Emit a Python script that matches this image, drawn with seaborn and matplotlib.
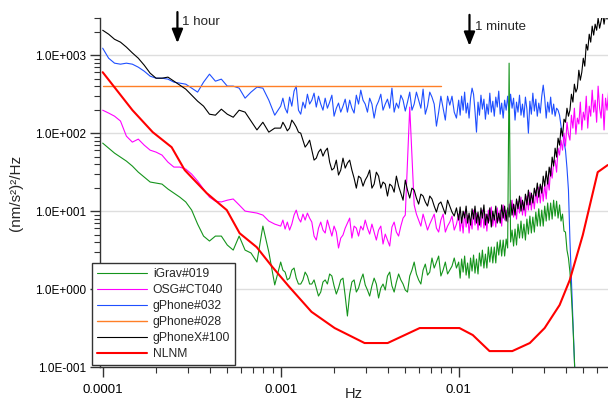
import numpy as np
import pandas as pd
import matplotlib
matplotlib.use("Agg")
import matplotlib.pyplot as plt
from matplotlib.ticker import FuncFormatter, LogLocator, NullFormatter
import seaborn as sns

# Frequency grid of the spectral estimates (Hz)
freq_lo = [1.000e-4, 1.080e-4, 1.166e-4, 1.259e-4, 1.359e-4, 1.468e-4, 1.585e-4, 1.711e-4,
           1.848e-4, 1.995e-4, 2.154e-4, 2.326e-4, 2.512e-4, 2.712e-4, 2.929e-4, 3.162e-4,
           3.415e-4, 3.687e-4, 3.981e-4, 4.299e-4, 4.642e-4, 5.012e-4, 5.412e-4, 5.843e-4,
           6.310e-4, 6.813e-4, 7.356e-4, 7.943e-4, 8.577e-4, 9.261e-4]
freq_mid = [1.000e-3, 1.029e-3, 1.059e-3, 1.090e-3, 1.122e-3, 1.155e-3, 1.189e-3, 1.223e-3,
            1.259e-3, 1.296e-3, 1.334e-3, 1.372e-3, 1.413e-3, 1.454e-3, 1.496e-3, 1.540e-3,
            1.585e-3, 1.631e-3, 1.679e-3, 1.728e-3, 1.778e-3, 1.830e-3, 1.884e-3, 1.939e-3,
            1.995e-3, 2.054e-3, 2.113e-3, 2.175e-3, 2.239e-3, 2.304e-3, 2.371e-3, 2.441e-3,
            2.512e-3, 2.585e-3, 2.661e-3, 2.738e-3, 2.818e-3, 2.901e-3, 2.985e-3, 3.073e-3,
            3.162e-3, 3.255e-3, 3.350e-3, 3.447e-3, 3.548e-3, 3.652e-3, 3.758e-3, 3.868e-3,
            3.981e-3, 4.097e-3, 4.217e-3, 4.340e-3, 4.467e-3, 4.597e-3, 4.732e-3, 4.870e-3,
            5.012e-3, 5.158e-3, 5.309e-3, 5.464e-3, 5.623e-3, 5.788e-3, 5.957e-3, 6.131e-3,
            6.310e-3, 6.494e-3, 6.683e-3, 6.879e-3, 7.079e-3, 7.286e-3, 7.499e-3, 7.718e-3,
            7.943e-3, 8.175e-3, 8.414e-3, 8.660e-3, 8.913e-3, 9.173e-3, 9.441e-3, 9.716e-3]
freq_hi = [1.000e-2, 1.019e-2, 1.039e-2, 1.059e-2, 1.080e-2, 1.101e-2, 1.122e-2, 1.144e-2,
           1.166e-2, 1.189e-2, 1.212e-2, 1.235e-2, 1.259e-2, 1.284e-2, 1.308e-2, 1.334e-2,
           1.359e-2, 1.386e-2, 1.413e-2, 1.440e-2, 1.468e-2, 1.496e-2, 1.525e-2, 1.555e-2,
           1.585e-2, 1.616e-2, 1.647e-2, 1.679e-2, 1.711e-2, 1.744e-2, 1.778e-2, 1.812e-2,
           1.848e-2, 1.884e-2, 1.920e-2, 1.957e-2, 1.995e-2, 2.034e-2, 2.073e-2, 2.113e-2,
           2.154e-2, 2.196e-2, 2.239e-2, 2.282e-2, 2.326e-2, 2.371e-2, 2.417e-2, 2.464e-2,
           2.512e-2, 2.560e-2, 2.610e-2, 2.661e-2, 2.712e-2, 2.765e-2, 2.818e-2, 2.873e-2,
           2.929e-2, 2.985e-2, 3.043e-2, 3.102e-2, 3.162e-2, 3.224e-2, 3.286e-2, 3.350e-2,
           3.415e-2, 3.481e-2, 3.548e-2, 3.617e-2, 3.687e-2, 3.758e-2, 3.831e-2, 3.906e-2,
           3.981e-2, 4.059e-2, 4.137e-2, 4.217e-2, 4.299e-2, 4.382e-2, 4.467e-2, 4.554e-2,
           4.642e-2, 4.732e-2, 4.823e-2, 4.917e-2, 5.012e-2, 5.109e-2, 5.208e-2, 5.309e-2,
           5.412e-2, 5.517e-2, 5.623e-2, 5.732e-2, 5.843e-2, 5.957e-2, 6.072e-2, 6.190e-2,
           6.310e-2, 6.432e-2, 6.556e-2, 6.683e-2, 6.813e-2, 6.945e-2]
freq = freq_lo + freq_mid + freq_hi

# PSD of each instrument, (nm/s^2)^2/Hz, on the grid above
igrav_019 = [
    74.5, 64.2, 55.4, 49.3, 43.8, 37.8, 31.6, 27.3, 23.6, 22.9,
    22.2, 19.2, 17.0, 15.1, 13.1, 10.3, 6.81, 4.78, 4.13, 4.78,
    4.78, 3.67, 3.16, 4.78, 3.16, 2.90, 2.22, 6.42, 2.98, 1.13,
    2.22, 1.75, 1.65, 1.31, 1.38, 1.75, 1.86, 1.38, 1.16, 1.16,
    1.31, 1.65, 1.47, 1.16, 1.16, 1.31, 1.03, 0.813, 0.915, 1.23,
    1.31, 1.16, 1.56, 1.47, 1.10, 0.863, 1.03, 1.31, 1.38, 0.813,
    0.451, 0.863, 1.23, 1.31, 0.915, 1.03, 1.31, 1.56, 1.13, 0.971,
    0.813, 1.10, 1.38, 1.16, 0.767, 1.03, 1.16, 0.971, 1.47, 1.65,
    1.10, 0.915, 1.23, 1.56, 1.31, 1.16, 0.971, 0.915, 1.47, 1.75,
    2.22, 1.56, 1.31, 1.16, 1.75, 2.09, 1.51, 1.65, 2.50, 1.86,
    2.22, 2.65, 1.47, 1.75, 2.22, 1.56, 1.75, 1.97, 2.50, 1.86,
    2.22, 1.38, 2.43, 1.65, 2.65, 1.51, 2.16, 1.38, 2.50, 1.70,
    2.73, 1.60, 2.43, 1.56, 2.90, 1.97, 3.16, 1.86, 2.81, 1.86,
    3.46, 2.22, 3.46, 2.16, 3.46, 2.16, 4.01, 2.73, 4.25, 2.65,
    4.25, 2.65, 4.38, 3.36, 790, 4.01, 5.71, 3.56, 5.88, 3.67,
    6.81, 4.51, 7.45, 4.51, 6.81, 4.25, 7.90, 5.07, 8.63, 5.23,
    8.38, 5.38, 9.71, 6.42, 10.7, 6.42, 10.3, 6.42, 11.6, 7.45,
    12.7, 7.67, 12.7, 7.90, 13.8, 8.63, 13.4, 8.13, 12.0, 7.45,
    9.15, 5.54, 5.38, 3.16, 2.50, 1.65, 0.813, 0.346, 0.123, 0.0378]

osg_ct040 = [
    197, 181, 165, 143, 91.5, 76.7, 83.8, 70.2, 60.5, 57.1,
    52.3, 42.5, 36.7, 36.7, 34.6, 29.8, 24.3, 19.2, 15.1, 13.4,
    13.1, 13.8, 14.3, 12.0, 10.0, 9.71, 9.43, 8.89, 7.45, 6.81,
    6.42, 7.67, 5.88, 7.23, 5.71, 6.81, 8.89, 10.3, 8.13, 7.23,
    9.15, 7.67, 9.43, 8.13, 7.23, 4.78, 4.25, 6.05, 7.23, 5.71,
    5.23, 7.67, 6.05, 4.78, 6.42, 5.38, 3.36, 4.51, 4.93, 6.05,
    7.02, 8.13, 4.51, 6.42, 6.05, 4.78, 6.42, 5.71, 7.67, 6.05,
    5.07, 6.81, 5.38, 4.25, 5.71, 6.42, 3.78, 5.07, 4.25, 3.56,
    6.24, 7.23, 5.38, 4.78, 6.42, 8.13, 8.89, 45.1, 216, 52.3,
    12.0, 9.15, 7.67, 6.42, 9.15, 7.23, 5.71, 6.81, 7.90, 9.15,
    6.05, 5.38, 7.67, 9.15, 5.38, 6.42, 7.23, 8.63, 5.71, 6.81,
    9.15, 5.54, 8.13, 5.23, 9.71, 6.24, 8.89, 5.23, 7.90, 5.88,
    10.3, 6.62, 9.43, 5.71, 8.38, 6.24, 10.3, 6.05, 9.15, 5.54,
    10.3, 7.45, 11.3, 6.42, 8.89, 6.24, 11.0, 7.45, 10.3, 6.42,
    12.0, 7.67, 10.3, 7.23, 12.3, 8.63, 13.8, 8.38, 12.0, 7.90,
    13.4, 9.43, 15.1, 8.89, 13.1, 8.63, 15.6, 10.3, 17.5, 10.3,
    16.0, 10.7, 18.6, 12.7, 20.3, 12.7, 20.9, 13.4, 22.2, 14.3,
    26.5, 18.6, 35.6, 26.5, 41.3, 45.1, 31.6, 64.2, 52.3, 81.3,
    60.5, 100, 68.1, 138, 97.1, 81.3, 170, 116, 209, 97.1,
    156, 131, 250, 110, 186, 147, 298, 116, 222, 165,
    356, 186, 265, 138, 401, 209, 156, 316, 110, 281,
    197, 336]

gphone_032 = [
    1230, 915, 790, 767, 790, 767, 702, 624, 538, 507,
    507, 493, 451, 438, 425, 378, 336, 451, 571, 464,
    493, 401, 401, 378, 281, 336, 389, 378, 265, 170,
    222, 281, 209, 181, 290, 222, 346, 401, 197, 175,
    250, 209, 316, 236, 265, 326, 216, 298, 236, 197,
    281, 209, 250, 307, 165, 209, 243, 186, 222, 273,
    186, 265, 209, 181, 307, 236, 356, 265, 236, 186,
    281, 236, 156, 222, 257, 316, 197, 236, 273, 209,
    378, 186, 243, 209, 307, 265, 192, 250, 336, 197,
    236, 336, 265, 209, 367, 175, 222, 336, 290, 236,
    123, 186, 298, 209, 147, 298, 229, 298, 186, 156,
    265, 170, 298, 197, 336, 181, 243, 156, 281, 378,
    316, 192, 103, 250, 170, 307, 203, 273, 151, 236,
    175, 326, 186, 257, 165, 290, 216, 346, 175, 243,
    156, 265, 197, 298, 181, 316, 209, 281, 147, 250,
    186, 307, 170, 236, 160, 290, 203, 100, 257, 175,
    326, 192, 273, 165, 243, 181, 298, 413, 281, 156,
    250, 186, 290, 175, 236, 165, 209, 197, 170, 123,
    100, 76.7, 60.5, 35.6, 18.6, 4.25, 1.31, 0.401, 0.123, 0.0378]

gphonex_100 = [
    2090, 1860, 1600, 1470, 1270, 1070, 915, 745, 588, 507,
    507, 523, 464, 413, 367, 307, 257, 222, 175, 170,
    203, 175, 160, 197, 186, 143, 110, 138, 103, 116,
    116, 138, 123, 107, 116, 147, 134, 120, 103, 100,
    81.3, 66.2, 72.3, 81.3, 60.5, 45.1, 47.8, 57.1, 62.4, 50.7,
    58.8, 64.2, 42.5, 33.6, 35.6, 45.1, 29.0, 33.6, 47.8, 35.6,
    41.3, 45.1, 33.6, 26.5, 19.7, 28.1, 26.5, 20.9, 25.0, 28.1,
    33.6, 19.7, 22.2, 31.6, 28.1, 19.7, 23.6, 22.2, 15.6, 22.2,
    20.9, 17.5, 28.1, 20.9, 17.0, 13.8, 25.0, 18.6, 14.7, 19.7,
    18.6, 14.7, 12.3, 16.5, 15.6, 13.1, 11.6, 15.6, 14.3, 11.6,
    9.71, 12.3, 13.1, 11.0, 9.15, 13.8, 11.6, 9.71, 8.63, 11.0,
    7.67, 11.3, 7.02, 10.0, 8.13, 11.6, 7.02, 9.43, 6.62, 10.7,
    7.90, 11.6, 7.02, 9.71, 6.62, 11.0, 8.13, 12.0, 6.62, 9.15,
    7.02, 11.0, 6.24, 10.0, 7.67, 11.6, 7.02, 9.43, 7.02, 12.0,
    8.13, 11.6, 7.45, 11.0, 8.38, 13.8, 8.89, 12.3, 8.89, 14.3,
    10.7, 15.6, 10.0, 13.8, 10.3, 16.5, 12.0, 18.6, 12.0, 17.0,
    12.7, 19.7, 15.6, 22.9, 15.1, 22.2, 17.0, 28.1, 20.9, 32.6,
    22.2, 36.7, 28.1, 49.3, 37.8, 64.2, 49.3, 86.3, 70.2, 116,
    91.5, 151, 138, 209, 165, 197, 316, 250, 425, 336,
    378, 642, 478, 605, 915, 723, 1380, 1160, 1860, 1470,
    2360, 1810, 2500, 2090, 2980, 2220, 2730, 3460, 2500, 3360,
    2900, 3560]

gphone_028_freq = [1.0e-4, 8.0e-3]
gphone_028 = [400, 400]

# New Low Noise Model
nlnm_freq = [1.0e-4, 1.47e-4, 1.91e-4, 2.44e-4, 2.89e-4, 3.84e-4, 4.98e-4, 5.88e-4,
             7.33e-4, 9.0e-4, 1.12e-3, 1.49e-3, 2.01e-3, 2.96e-3, 3.99e-3, 6.04e-3,
             1.01e-2, 1.20e-2, 1.49e-2, 2.0e-2, 2.51e-2, 3.04e-2, 3.69e-2, 4.21e-2,
             4.98e-2, 6.04e-2, 6.87e-2]
nlnm = [605, 197, 103, 66, 33.6, 17.0, 10.3, 5.2, 3.45, 1.91, 1.06, 0.51, 0.316,
        0.203, 0.203, 0.316, 0.316, 0.257, 0.16, 0.16, 0.203, 0.316, 0.624, 1.31,
        4.93, 31.6, 38.9]

labels = ["iGrav#019", "OSG#CT040", "gPhone#032", "gPhone#028", "gPhoneX#100", "NLNM"]

sns.set_theme(style="white")
plt.rcParams["font.family"] = ["Liberation Sans", "DejaVu Sans"]

W, H = 608, 401
fig = plt.figure(figsize=(W / 100, H / 100), dpi=100)
ax = fig.add_axes([100 / W, 34 / H, 508 / W, 349 / H])

series = [
    ("gPhone#032", freq, gphone_032, "#1f4fff", 0.8, 2.0),
    ("gPhone#028", gphone_028_freq, gphone_028, "#ff7f27", 1.0, 2.1),
    ("OSG#CT040", freq, osg_ct040, "#ff00ff", 0.8, 2.2),
    ("gPhoneX#100", freq, gphonex_100, "#000000", 0.8, 2.3),
    ("iGrav#019", freq, igrav_019, "#15941c", 0.8, 2.4),
    ("NLNM", nlnm_freq, nlnm, "#ff0000", 1.5, 2.5),
]
for name, fx, fy, color, lw, z in series:
    df = pd.DataFrame({"Hz": fx[:len(fy)], "psd": fy})
    sns.lineplot(data=df, x="Hz", y="psd", ax=ax, color=color, linewidth=lw,
                 estimator=None, sort=False, label=name, zorder=z)

ax.set_xscale("log")
ax.set_yscale("log")
ax.set_xlim(9.66e-5, 0.069)
ax.set_ylim(0.1, 3000)


def sci_label(v, pos):
    if v <= 0:
        return ""
    e = int(np.floor(np.log10(v) + 1e-9))
    m = v / 10 ** e
    return f"{m:.1f}E{e:+04d}"


ax.yaxis.set_major_formatter(FuncFormatter(sci_label))
ax.xaxis.set_major_formatter(FuncFormatter(lambda v, p: f"{v:g}"))
ax.yaxis.set_minor_locator(LogLocator(base=10, subs=(2, 3, 4, 5, 6, 7, 8, 9), numticks=20))
ax.xaxis.set_minor_locator(LogLocator(base=10, subs=(2, 3, 4, 5, 6, 7, 8, 9), numticks=20))
ax.yaxis.set_minor_formatter(NullFormatter())
ax.xaxis.set_minor_formatter(NullFormatter())

ax.tick_params(axis="both", which="major", direction="out", length=7, width=1,
               color="#333333", labelcolor="black", left=True, bottom=True)
ax.tick_params(axis="both", which="minor", direction="out", length=4, width=0.8,
               color="#333333", left=True, bottom=True)
ax.tick_params(axis="y", which="major", labelsize=8.5, pad=3)
ax.tick_params(axis="x", which="major", labelsize=9.5, pad=5)

ax.yaxis.grid(True, which="major", color="#dedede", linewidth=1)
ax.xaxis.grid(False)
ax.set_axisbelow(True)
for side in ("top", "right"):
    ax.spines[side].set_visible(False)
for side in ("left", "bottom"):
    ax.spines[side].set_color("#333333")
    ax.spines[side].set_linewidth(1)

ax.set_xlabel("Hz", fontsize=10.5)
ax.set_ylabel("(nm/s²)²/Hz", fontsize=11)
ax.xaxis.set_label_coords(0.5, -0.058)
ax.yaxis.set_label_coords(-0.152, 0.5)

# Period markers
xt = ax.get_xaxis_transform()
arrow = dict(arrowstyle="-|>,head_length=0.55,head_width=0.22", lw=1.6, color="black",
             mutation_scale=15, shrinkA=0, shrinkB=0)
ax.annotate("", xy=(2.63e-4, 0.928), xycoords=xt, xytext=(2.63e-4, 1.017), textcoords=xt,
            arrowprops=arrow, annotation_clip=False)
ax.annotate("", xy=(1.15e-2, 0.920), xycoords=xt, xytext=(1.15e-2, 1.009), textcoords=xt,
            arrowprops=arrow, annotation_clip=False)
ax.text(2.79e-4, 0.9885, "1 hour", transform=xt, ha="left", va="center", fontsize=9.6, clip_on=False)
ax.text(1.23e-2, 0.974, "1 minute", transform=xt, ha="left", va="center", fontsize=9.5, clip_on=False)

handles, hlabels = ax.get_legend_handles_labels()
lookup = dict(zip(hlabels, handles))
leg = ax.legend([lookup[n] for n in labels], labels, loc="lower left",
                bbox_to_anchor=(92 / W, 36 / H), bbox_transform=fig.transFigure,
                borderaxespad=0, fontsize=8.7, handlelength=4.2, handletextpad=0.45,
                borderpad=0.38, labelspacing=0.34, fancybox=False, framealpha=1,
                edgecolor="#333333")
leg.get_frame().set_linewidth(1)
leg.set_zorder(5)

fig.savefig("out.png", dpi=100)
